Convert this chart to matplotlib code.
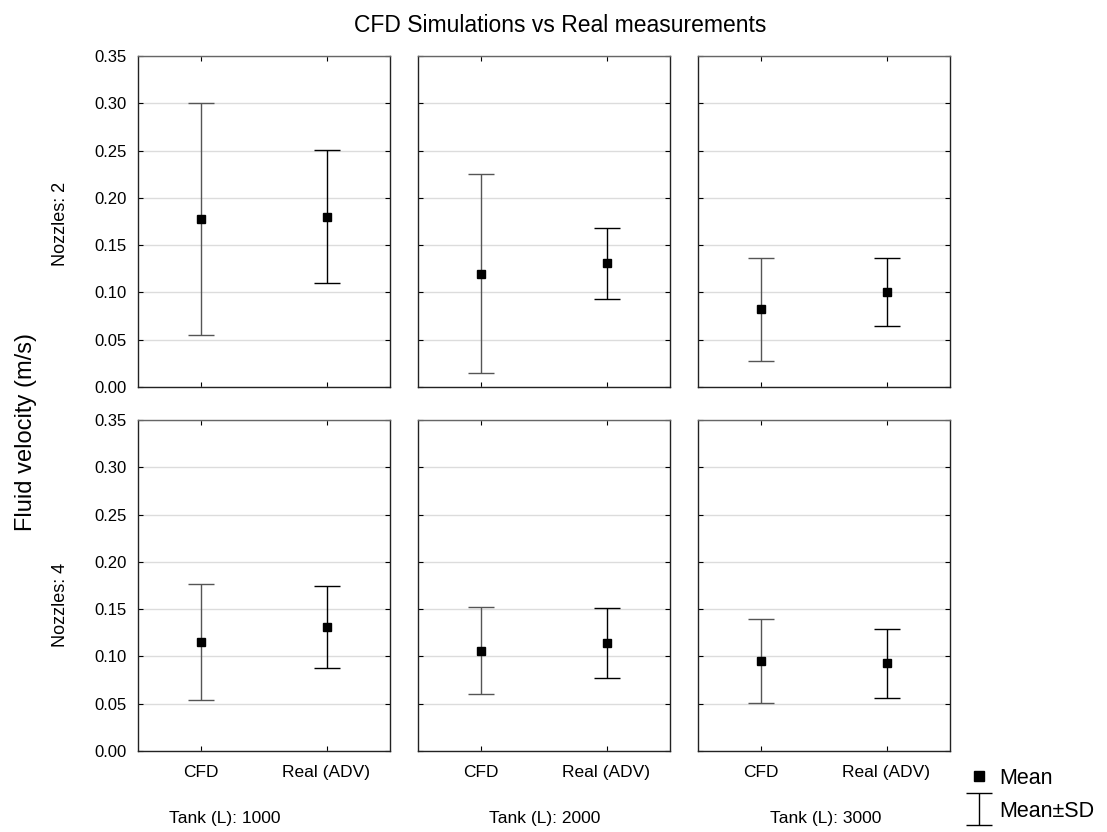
import numpy as np
import matplotlib.pyplot as plt
from matplotlib.lines import Line2D
from matplotlib.container import ErrorbarContainer
from matplotlib.legend_handler import HandlerErrorbar

plt.rcParams['font.family'] = ['Liberation Sans', 'DejaVu Sans']

# Mean and SD of fluid velocity (m/s) per tank size, for 2 and 4 nozzles
tanks = [1000, 2000, 3000]
nozzles = [2, 4]
methods = ["CFD", "Real (ADV)"]

cfd_mean_n2 = [0.178, 0.120, 0.082]
cfd_sd_n2 = [0.1225, 0.1055, 0.054]
real_mean_n2 = [0.180, 0.131, 0.100]
real_sd_n2 = [0.0705, 0.0375, 0.036]

cfd_mean_n4 = [0.115, 0.106, 0.095]
cfd_sd_n4 = [0.0615, 0.046, 0.0445]
real_mean_n4 = [0.131, 0.114, 0.093]
real_sd_n4 = [0.0435, 0.037, 0.0365]

means = {2: (cfd_mean_n2, real_mean_n2), 4: (cfd_mean_n4, real_mean_n4)}
sds = {2: (cfd_sd_n2, real_sd_n2), 4: (cfd_sd_n4, real_sd_n4)}
bar_colors = ["#555555", "black"]

W, H = 1107, 832
fig = plt.figure(figsize=(W / 100, H / 100), dpi=100)

lefts = [137.5, 417.5, 697.5]
tops = [56, 420]
aw, ah = 252, 331
tank_label_x = [0.346, 0.505, 0.51]
nozzle_label_y = [0.492, 0.441]

for r, nz in enumerate(nozzles):
    for c, tank in enumerate(tanks):
        ax = fig.add_axes([lefts[c] / W, 1 - (tops[r] + ah) / H, aw / W, ah / H])
        for m in range(2):
            eb = ax.errorbar([m], [means[nz][m][c]], yerr=[sds[nz][m][c]], fmt='none',
                             ecolor=bar_colors[m], elinewidth=1.0,
                             capsize=9.5, capthick=1.0, zorder=3)
            ax.plot([m], [means[nz][m][c]], 's', color='black', ms=6, zorder=4)
        ax.set_xlim(-0.5, 1.5)
        ax.set_ylim(0, 0.35)
        ax.set_yticks(np.arange(0, 0.351, 0.05))
        ax.set_xticks([0, 1])
        ax.yaxis.grid(True, color='#dcdcdc', lw=1.0)
        ax.set_axisbelow(True)
        ax.tick_params(direction='in', top=True, right=True, length=3.5, width=0.8,
                       labelsize=12)
        ax.tick_params(axis='x', pad=10, labelsize=12.5)
        ax.tick_params(axis='y', pad=8)
        for s in ax.spines.values():
            s.set_linewidth(1.0)
            s.set_color('#222222')
        ax.spines['top'].set_color('#666666')
        if c == 0:
            ax.set_yticklabels([f"{v:.2f}" for v in np.arange(0, 0.351, 0.05)])
            ax.text(-0.3075, nozzle_label_y[r], f"Nozzles: {nz}", rotation=90,
                    ha='center', va='center', fontsize=13, transform=ax.transAxes)
        else:
            ax.set_yticklabels([])
        if r == 1:
            ax.set_xticklabels(methods)
            ax.text(tank_label_x[c], -0.205, f"Tank (L): {tank}", ha='center',
                    va='center', fontsize=12.5, transform=ax.transAxes)
        else:
            ax.set_xticklabels([])

fig.text(560 / W, 1 - 25 / H, "CFD Simulations vs Real measurements",
         ha='center', va='center', fontsize=16.5)
fig.text(25.7 / W, 1 - 432 / H, "Fluid velocity (m/s)", rotation=90,
         ha='center', va='center', fontsize=17)

mean_handle = Line2D([], [], marker='s', color='black', ls='none', ms=7)
fig.legend([mean_handle, eb], ["Mean", "Mean±SD"],
           handler_map={ErrorbarContainer: HandlerErrorbar(xerr_size=0.75)},
           loc='upper left', bbox_to_anchor=(968 / W, 1 - 768 / H),
           frameon=False, fontsize=15.5, handlelength=1.0, handletextpad=0.45,
           labelspacing=0.55, borderaxespad=0, borderpad=0)

fig.savefig("out.png", dpi=100)
